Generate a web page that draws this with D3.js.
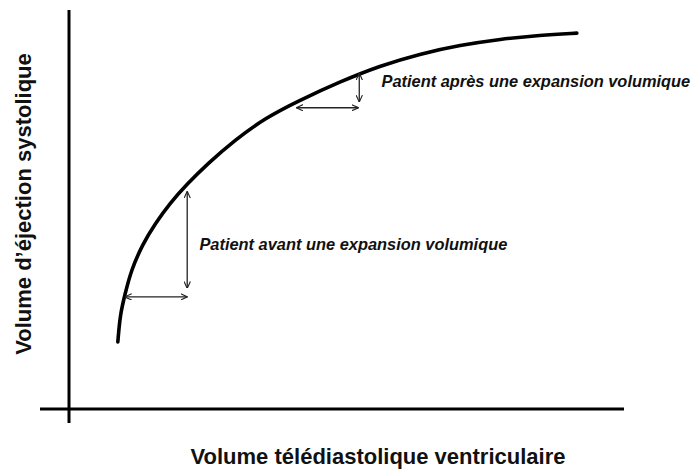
<!DOCTYPE html>
<meta charset="utf-8">
<style>
body { margin: 0; background: #fff; }
.curve { fill: none; stroke: #000; stroke-width: 3.6px; stroke-linecap: round; }
.axis-line { stroke: #000; stroke-width: 3px; }
.arrow { stroke: #222; stroke-width: 1.3px; fill: none; }
.title { font: bold 22px "Liberation Sans", Arial, sans-serif; fill: #111; }
.note { font: italic bold 16.4px "Liberation Sans", Arial, sans-serif; fill: #111; }
</style>
<body>
<script src="https://cdn.jsdelivr.net/npm/d3@7"></script>
<script>

// curve (arbitrary units, 0-100 on both axes)
var curveX = [8.8, 9.2, 10.1, 11.2, 13.3, 15.5, 18.2, 21.3, 24.9, 29.9, 35.3, 41.6, 48.8, 56.0, 63.2, 70.5, 77.7, 84.9, 91.5];
var curveY = [16.8, 23.6, 28.8, 34.8, 41.4, 46.4, 51.6, 56.4, 61.4, 67.4, 72.9, 77.4, 82.0, 86.0, 89.0, 91.2, 92.7, 93.7, 94.2];

// double arrows: [x1, y1, x2, y2]
var arrows = [
  [10.1, 28.1, 21.3, 28.1],
  [21.3, 54.5, 21.3, 30.3],
  [41.0, 75.5, 52.1, 75.5],
  [52.3, 84.1, 52.3, 77.0]
];

var notes = ["Patient avant une expansion volumique", "Patient après une expansion volumique"];
var notePos = [[23.5, 39.8], [56.3, 80.8]];

var xTitle = "Volume télédiastolique ventriculaire",
    yTitle = "Volume d\u2019éjection systolique";

var width = 691, height = 470;

var x = d3.scaleLinear().domain([0, 100]).range([69, 624]);
var y = d3.scaleLinear().domain([0, 100]).range([409, 10]);

var svg = d3.select("body").append("svg")
    .attr("width", width)
    .attr("height", height);

// open arrow head
svg.append("defs").append("marker")
    .attr("id", "head")
    .attr("viewBox", "0 -5 10 10")
    .attr("refX", 9.5)
    .attr("refY", 0)
    .attr("markerUnits", "userSpaceOnUse")
    .attr("markerWidth", 7)
    .attr("markerHeight", 7)
    .attr("orient", "auto-start-reverse")
  .append("path")
    .attr("d", "M0,-4.5L10,0L0,4.5")
    .attr("fill", "none")
    .attr("stroke", "#222")
    .attr("stroke-width", 1.6);

// axes, just the two crossing lines
svg.append("line").attr("class", "axis-line")
    .attr("x1", 40).attr("x2", 624)
    .attr("y1", y(0)).attr("y2", y(0));
svg.append("line").attr("class", "axis-line")
    .attr("x1", x(0)).attr("x2", x(0))
    .attr("y1", 10).attr("y2", 423);

var pts = curveX.map(function(d, i) { return [d, curveY[i]]; });

var line = d3.line()
    .x(function(d) { return x(d[0]); })
    .y(function(d) { return y(d[1]); })
    .curve(d3.curveBasis);

svg.append("path")
    .attr("class", "curve")
    .attr("d", line(pts));

svg.selectAll(".arrow")
    .data(arrows)
  .enter().append("line")
    .attr("class", "arrow")
    .attr("x1", function(d) { return x(d[0]); })
    .attr("y1", function(d) { return y(d[1]); })
    .attr("x2", function(d) { return x(d[2]); })
    .attr("y2", function(d) { return y(d[3]); })
    .attr("marker-start", "url(#head)")
    .attr("marker-end", "url(#head)");

svg.selectAll(".note")
    .data(notes)
  .enter().append("text")
    .attr("class", "note")
    .attr("x", function(d, i) { return x(notePos[i][0]); })
    .attr("y", function(d, i) { return y(notePos[i][1]); })
    .text(function(d) { return d; });

svg.append("text")
    .attr("class", "title")
    .attr("x", 378)
    .attr("y", 464)
    .attr("text-anchor", "middle")
    .text(xTitle);

svg.append("text")
    .attr("class", "title")
    .attr("transform", "translate(31,204) rotate(-90)")
    .attr("text-anchor", "middle")
    .text(yTitle);

</script>
</body>
